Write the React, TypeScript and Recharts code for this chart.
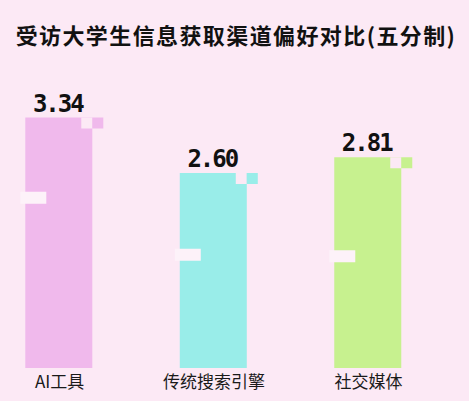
import { BarChart, Bar, XAxis, YAxis, LabelList } from "recharts";

// data
const categories = ["AI工具", "传统搜索引擎", "社交媒体"];
const scores = [3.34, 2.6, 2.81];
const positions = [0, 1, 2];

// styles
const BG = "#fce9f5";
const COLORS = ["#f0b9ec", "#99ede9", "#c7f18f"];
const NOTCH_AT = [2.27, 1.51, 1.49]; // decorative left notches, in score units
const CJK = '"Noto Sans CJK SC", "Noto Sans", sans-serif';

const rows = categories.map((name, i) => ({
  name,
  idx: positions[i],
  score: scores[i],
}));

/* ---------- UI bits ---------- */

function PixelBar(props: any) {
  const { x, y, width, height, index, value } = props;
  const color = COLORS[index];
  const sq = 11;
  const perUnit = height / value;
  const notchY = y + height - NOTCH_AT[index] * perUnit - 6;
  return (
    <g>
      <rect x={x} y={y} width={width} height={height} fill={color} />
      {/* cut-out corner */}
      <rect x={x + width - sq} y={y} width={sq} height={sq} fill={BG} />
      {/* floating pixel */}
      <rect x={x + width} y={y} width={sq} height={sq} fill={color} />
      {/* left notch */}
      <rect x={x - 5} y={notchY} width={26} height={12} fill="#fdf2f9" />
    </g>
  );
}

function ValueLabel(props: any) {
  const { x, y, width, value } = props;
  return (
    <text
      x={x + width / 2 - 1}
      y={y - 6}
      textAnchor="middle"
      fontFamily='"DejaVu Sans Mono", monospace'
      fontWeight={700}
      fontSize={24}
      letterSpacing={-2}
      fill="#111"
    >
      {Number(value).toFixed(2)}
    </text>
  );
}

function CatTick(props: any) {
  const { x, y, payload } = props;
  return (
    <text
      x={x + 1}
      y={y + 20}
      textAnchor="middle"
      fontFamily={CJK}
      fontSize={17}
      fill="#1a1a1a"
    >
      {categories[payload.value]}
    </text>
  );
}

export default function App() {
  return (
    <div
      style={{
        position: "absolute",
        left: 0,
        top: 0,
        width: 469,
        height: 401,
        background: BG,
        overflow: "hidden",
      }}
    >
      <div
        style={{
          position: "absolute",
          left: 0,
          top: 21,
          width: 472,
          textAlign: "center",
          fontFamily: CJK,
          fontWeight: 700,
          fontSize: 22,
          lineHeight: "26px",
          letterSpacing: 1.4,
          color: "#111",
        }}
      >
        受访大学生信息获取渠道偏好对比(五分制)
      </div>
      <BarChart
        width={469}
        height={401}
        data={rows}
        margin={{ top: 68, right: 0, left: 0, bottom: 0 }}
      >
        <XAxis
          type="number"
          dataKey="idx"
          domain={[-0.379, 2.657]}
          ticks={positions}
          interval={0}
          axisLine={false}
          tickLine={false}
          tickSize={0}
          tickMargin={0}
          height={33}
          tick={<CatTick />}
        />
        <YAxis hide domain={[0, 4]} />
        <Bar
          dataKey="score"
          barSize={67}
          shape={<PixelBar />}
          isAnimationActive={false}
        >
          <LabelList dataKey="score" content={<ValueLabel />} />
        </Bar>
      </BarChart>
    </div>
  );
}
